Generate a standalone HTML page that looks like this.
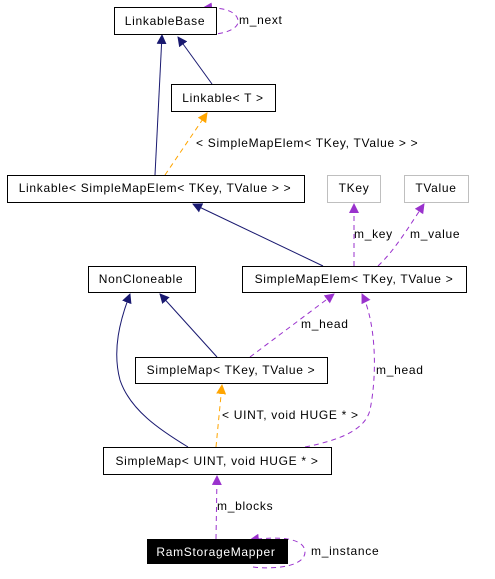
<!DOCTYPE html>
<html><head><style>body{margin:0;background:#fff}svg{display:block}text{font-family:"Liberation Sans",sans-serif;font-size:12px;letter-spacing:0.7px}</style></head><body>
<svg width="495" height="579" viewBox="0 0 495 579" xmlns="http://www.w3.org/2000/svg">
<defs>
<marker id="n" markerWidth="10" markerHeight="10" refX="9" refY="5" orient="auto" markerUnits="userSpaceOnUse"><path d="M0,0L10,5L0,10z" fill="#191970"/></marker>
<marker id="p" markerWidth="10" markerHeight="10" refX="9" refY="5" orient="auto" markerUnits="userSpaceOnUse"><path d="M0,0L10,5L0,10z" fill="#9a32cd"/></marker>
<marker id="o" markerWidth="10" markerHeight="10" refX="9" refY="5" orient="auto" markerUnits="userSpaceOnUse"><path d="M0,0L10,5L0,10z" fill="#ffa500"/></marker>
</defs>
<g fill="none" stroke-width="1">
<path d="M155,175L162,35" stroke="#191970" marker-end="url(#n)"/>
<path d="M212,84L178,37" stroke="#191970" marker-end="url(#n)"/>
<path d="M323,266L193,204" stroke="#191970" marker-end="url(#n)"/>
<path d="M188,447C160,430 130,410 120,380C112,350 120,320 130,294" stroke="#191970" marker-end="url(#n)"/>
<path d="M217,357L160,294" stroke="#191970" marker-end="url(#n)"/>
<path d="M165,175L207,113" stroke="#ffa500" stroke-dasharray="5,4" marker-end="url(#o)"/>
<path d="M216,447L222,385" stroke="#ffa500" stroke-dasharray="5,4" marker-end="url(#o)"/>
<path d="M200,34C220,36 240,30 238,20C236,10 220,7 203,8" stroke="#9a32cd" stroke-dasharray="5,4" marker-end="url(#p)"/>
<path d="M354,266L354,204" stroke="#9a32cd" stroke-dasharray="5,4" marker-end="url(#p)"/>
<path d="M378,266C395,250 410,225 424,204" stroke="#9a32cd" stroke-dasharray="5,4" marker-end="url(#p)"/>
<path d="M250,357L334,294" stroke="#9a32cd" stroke-dasharray="5,4" marker-end="url(#p)"/>
<path d="M305,447C340,440 365,430 370,410C378,370 375,320 362,294" stroke="#9a32cd" stroke-dasharray="5,4" marker-end="url(#p)"/>
<path d="M216,539L217,476" stroke="#9a32cd" stroke-dasharray="5,4" marker-end="url(#p)"/>
<path d="M253,567C280,570 305,565 305,552C305,540 285,535 250,540" stroke="#9a32cd" stroke-dasharray="5,4" marker-end="url(#p)"/>
</g>
<g stroke-width="1">
<rect x="114.5" y="7.5" width="102" height="27" fill="#fff" stroke="#000"/>
<rect x="171.5" y="84.5" width="104" height="27" fill="#fff" stroke="#000"/>
<rect x="7.5" y="175.5" width="297" height="27" fill="#fff" stroke="#000"/>
<rect x="327.5" y="175.5" width="53" height="27" fill="#fff" stroke="#bfbfbf"/>
<rect x="404.5" y="175.5" width="64" height="27" fill="#fff" stroke="#bfbfbf"/>
<rect x="88.5" y="266.5" width="107" height="26" fill="#fff" stroke="#000"/>
<rect x="242.5" y="266.5" width="224" height="26" fill="#fff" stroke="#000"/>
<rect x="135.5" y="357.5" width="192" height="26" fill="#fff" stroke="#000"/>
<rect x="103.5" y="447.5" width="228" height="27" fill="#fff" stroke="#000"/>
<rect x="147" y="539" width="141" height="25" fill="#000"/>
</g>
<g fill="#000">
<text x="165" y="25" text-anchor="middle">LinkableBase</text>
<text x="223" y="102" text-anchor="middle">Linkable&lt; T &gt;</text>
<text x="155" y="192" text-anchor="middle">Linkable&lt; SimpleMapElem&lt; TKey, TValue &gt; &gt;</text>
<text x="354" y="192" text-anchor="middle">TKey</text>
<text x="436" y="192" text-anchor="middle">TValue</text>
<text x="141" y="283" text-anchor="middle">NonCloneable</text>
<text x="354" y="283" text-anchor="middle">SimpleMapElem&lt; TKey, TValue &gt;</text>
<text x="231" y="374" text-anchor="middle">SimpleMap&lt; TKey, TValue &gt;</text>
<text x="217" y="465" text-anchor="middle">SimpleMap&lt; UINT, void HUGE * &gt;</text>
<text x="216" y="556" text-anchor="middle" fill="#fff">RamStorageMapper</text>
<text x="239" y="24">m_next</text>
<text x="196" y="147">&lt; SimpleMapElem&lt; TKey, TValue &gt; &gt;</text>
<text x="354" y="238">m_key</text>
<text x="410" y="238">m_value</text>
<text x="301" y="328">m_head</text>
<text x="376" y="374">m_head</text>
<text x="222" y="419">&lt; UINT, void HUGE * &gt;</text>
<text x="217" y="510">m_blocks</text>
<text x="311" y="555">m_instance</text>
</g>
</svg>
</body></html>
